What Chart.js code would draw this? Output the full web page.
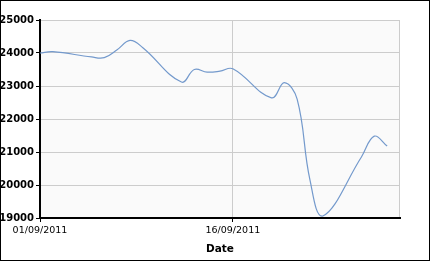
<!DOCTYPE html>
<html>
<head>
<meta charset="utf-8">
<script src="https://cdn.jsdelivr.net/npm/chart.js@4/dist/chart.umd.min.js"></script>
<style>
  html, body { margin: 0; padding: 0; background: #fff; }
  #wrap { width: 430px; height: 261px; }
</style>
</head>
<body>
<div id="wrap"><canvas id="chart" width="430" height="261"></canvas></div>
<script>
// Day offsets from 01/09/2011 (trading days only)
const dayOffsets = [0, 1, 4, 5, 6, 7, 8, 11, 12, 13, 14, 15, 18, 19, 20, 21, 22, 25, 26, 27];
const closeValues = [24000, 24040, 23880, 23860, 24100, 24380, 24160, 23120, 23500, 23420,
                     23450, 23520, 22640, 23100, 22600, 20150, 19060, 20850, 21480, 21180];
const xTickDays = [0, 15];
const yTickValues = [19000, 20000, 21000, 22000, 23000, 24000, 25000];

// format day offset as dd/09/2011
const fmtDate = (d) => String(d + 1).padStart(2, '0') + '/09/2011';

// plot background, grey frame and outer black border
const framePlugin = {
  id: 'frame',
  beforeDraw(chart) {
    const { ctx, chartArea: a } = chart;
    ctx.save();
    ctx.fillStyle = '#fff';
    ctx.fillRect(0, 0, chart.width, chart.height);
    ctx.fillStyle = '#fafafa';
    ctx.fillRect(a.left, a.top, a.right - a.left, a.bottom - a.top);
    ctx.strokeStyle = '#cccccc';
    ctx.lineWidth = 1;
    ctx.strokeRect(a.left + 0.5, a.top + 0.5, a.right - a.left - 1, a.bottom - a.top);
    ctx.restore();
  },
  afterDraw(chart) {
    const { ctx } = chart;
    ctx.save();
    ctx.strokeStyle = '#000';
    ctx.lineWidth = 1;
    ctx.strokeRect(0.5, 0.5, chart.width - 1, chart.height - 1);
    ctx.restore();
  }
};

new Chart(document.getElementById('chart'), {
  type: 'line',
  data: {
    datasets: [{
      data: dayOffsets.map((d, i) => ({ x: d, y: closeValues[i] })),
      borderColor: '#7399cc',
      borderWidth: 1.2,
      pointRadius: 0,
      tension: 0.4,
      fill: false
    }]
  },
  options: {
    responsive: false,
    animation: false,
    layout: { padding: { left: 0, right: 30, top: 20, bottom: 0 } },
    plugins: { legend: { display: false }, tooltip: { enabled: false } },
    scales: {
      x: {
        type: 'linear',
        min: 0,
        max: 28,
        afterBuildTicks: (scale) => { scale.ticks = xTickDays.map(v => ({ value: v })); },
        afterFit: (scale) => { scale.height = 43; },
        ticks: {
          callback: (v) => fmtDate(v),
          color: '#000',
          font: { family: 'DejaVu Sans', size: 9.5 },
          padding: 3,
          maxRotation: 0
        },
        grid: { color: '#cccccc', tickColor: '#000', tickLength: 4 },
        border: { color: '#000', width: 2 },
        title: {
          display: true,
          text: 'Date',
          color: '#000',
          font: { family: 'DejaVu Sans', size: 10.5, weight: 'bold' },
          padding: { top: 0, bottom: 5 }
        }
      },
      y: {
        min: 19000,
        max: 25000,
        afterBuildTicks: (scale) => { scale.ticks = yTickValues.map(v => ({ value: v })); },
        afterFit: (scale) => { scale.width = 40; },
        ticks: {
          callback: (v) => String(v),
          color: '#000',
          font: { family: 'DejaVu Sans', size: 10, weight: 'bold' },
          padding: 2
        },
        grid: { color: '#cccccc', tickColor: '#000', tickLength: 4 },
        border: { color: '#000', width: 2 }
      }
    }
  },
  plugins: [framePlugin]
});
</script>
</body>
</html>
